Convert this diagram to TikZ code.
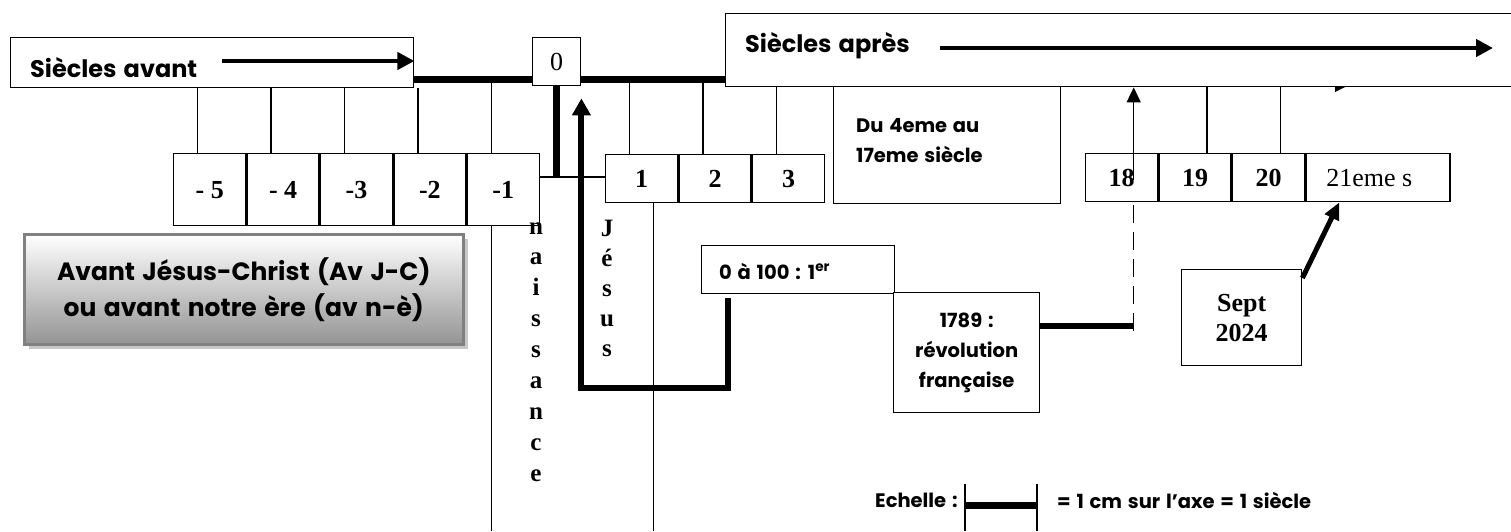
\documentclass[tikz,border=0pt]{standalone}
\usepackage{fontspec}
\newfontfamily\tnr{Liberation Serif}
\newfontfamily\comic{Poppins}[WordSpace=1.4]
\usetikzlibrary{arrows.meta,shadows,calc}
\begin{document}
\begin{tikzpicture}[x=1pt,y=-1pt,
  box/.style={draw, line width=1.4pt, inner sep=0pt, fill=white},
  numfont/.style={font=\tnr\bfseries\fontsize{26}{28}\selectfont},
  numcell/.style={box, numfont, minimum width=72pt},
  bigfont/.style={font=\comic\bfseries\fontsize{24}{36}\selectfont},
  ajcfont/.style={font=\comic\bfseries\fontsize{25}{36}\selectfont},
  smfont/.style={font=\comic\bfseries\fontsize{19.5}{30}\selectfont},
  bigtxt/.style={inner sep=0pt, bigfont},
  smtxt/.style={inner sep=0pt, smfont},
  vtxt/.style={inner sep=0pt, anchor=base, font=\tnr\bfseries\fontsize{25}{28}\selectfont},
  thinl/.style={line width=1.4pt},
  axisl/.style={line width=7pt},
  heavy/.style={line width=5.5pt},
  heavyarr/.style={line width=4.5pt, -{Triangle[width=17pt,length=17pt]}},
]
\useasboundingbox (0,0) rectangle (1511,531);
\coordinate (ax) at (0,79);
\coordinate (bot) at (0,531);
\coordinate (hl) at (0,177);
\coordinate (jb) at (0,388);
\coordinate (dk) at (0,326);
\coordinate (dk2) at (0,331);

% ---- top boxes
\node[box, minimum width=403pt, minimum height=50pt, anchor=north west] (sa) at (10,37) {};
\node[bigtxt, anchor=west] (satxt) at (30,68) {Siècles avant};
\coordinate (saA) at (222,61);
\draw[heavyarr] (saA) -- (saA -| sa.east);

\node[box, minimum width=48pt, minimum height=48pt, anchor=north west, font=\tnr\fontsize{26}{28}\selectfont] (zero) at (532,37) {0};

\node[box, minimum width=830pt, minimum height=73pt, anchor=north west] (ap) at (725,13) {};
\node[bigtxt, anchor=west] (aptxt) at (745,46) {Siècles après};
\coordinate (apA) at (940,48);
\coordinate (apB) at (1493,48);
\draw[heavyarr] (apA) -- (apB);

\draw[axisl] (sa.east |- ax) -- (zero.west |- ax);
\draw[axisl] (zero.east |- ax) -- (ap.west |- ax);

% ---- left cells
\node[numcell, minimum height=72pt, anchor=north west] (m5) at (173,153) {- 5};
\node[numcell, minimum height=72pt, anchor=north west] (m4) at (m5.north east) {- 4};
\node[numcell, minimum height=72pt, anchor=north west] (m3) at (m4.north east) {-3};
\node[numcell, minimum height=72pt, anchor=north west] (m2) at (m3.north east) {-2};
\node[numcell, minimum height=72pt, anchor=north west] (m1) at (m2.north east) {-1};
\foreach \c in {m5,m4,m3,m2}
  \draw[thinl] ([xshift=-12pt]\c.north) -- ([xshift=-12pt]\c.north |- sa.south);
\draw[thinl] ([xshift=-12pt]m1.north) -- ([xshift=-12pt]m1.north |- ax);
\draw[thinl] ([xshift=-12pt]m1.south) -- ([xshift=-12pt]m1.south |- bot);

% ---- cells 1 2 3
\node[numcell, minimum height=48pt, anchor=north west] (p1) at (605,154) {1};
\node[numcell, minimum height=48pt, anchor=north west] (p2) at (p1.north east) {2};
\node[numcell, minimum height=48pt, anchor=north west] (p3) at (p2.north east) {3};
\draw[thinl] ([xshift=-12pt]p1.north) -- ([xshift=-12pt]p1.north |- ax);
\draw[thinl] ([xshift=-12pt]p2.north) -- ([xshift=-12pt]p2.north |- ax);
\draw[thinl] ([xshift=-12pt]p3.north) -- ([xshift=-12pt]p3.north |- ap.south);
\draw[thinl] ([xshift=12pt]p1.south) -- ([xshift=12pt]p1.south |- bot);

% ---- zero connectors
\draw[axisl] (zero.south) -- (zero.south |- hl);
\draw[thinl] (m1.east |- hl) -- (p1.west |- hl);

% ---- du 4eme
\node[box, minimum width=227pt, minimum height=117pt, anchor=north west] (du) at (833,86) {};
\node[smtxt, anchor=north west, align=left] (dutxt) at (856,118) {Du 4eme au\\17eme siècle};

% ---- right cells
\node[numcell, minimum height=48pt, anchor=north west] (c18) at (1085,153) {18};
\node[numcell, minimum height=48pt, anchor=north west] (c19) at (c18.north east) {19};
\node[numcell, minimum height=48pt, anchor=north west] (c20) at (c19.north east) {20};
\node[box, minimum width=144pt, minimum height=48pt, anchor=north west] (c21) at (c20.north east) {};
\node[inner sep=0pt, anchor=west, font=\tnr\fontsize{26}{28}\selectfont] (c21txt) at ([xshift=21pt]c21.west) {21eme s};
\draw[thinl] ([xshift=12pt]c19.north) -- ([xshift=12pt]c19.north |- ap.south);
\draw[thinl] ([xshift=12pt]c20.north) -- ([xshift=12pt]c20.north |- ap.south);
\fill (1335,86) -- (1347,86) -- (1335,92) -- cycle;

% ---- event boxes
\node[box, minimum width=193pt, minimum height=48pt, anchor=north west] (h1) at (701,245) {};
\node[smtxt, anchor=west] (h1txt) at (719,271) {0 à 100 : 1\textsuperscript{er}};
\node[box, smfont, align=center, minimum width=146pt, minimum height=120pt, anchor=north west] (rev) at (893,292) {1789 :\\révolution\\française};
\node[box, align=center, minimum width=120pt, minimum height=96pt, anchor=north west, font=\tnr\bfseries\fontsize{26}{30}\selectfont] (sept) at (1181,269) {Sept\\2024};

% ---- connectors
\draw[heavy] (rev.east |- dk) -- ([xshift=12pt]c18.south |- dk);
\draw[thinl, dash pattern=on 18pt off 9pt] ([xshift=12pt]c18.south |- dk2) -- ([xshift=12pt]c18.south);
\draw[thinl, -{Triangle[width=14pt,length=15pt]}] ([xshift=12pt,yshift=-27pt]c18.north) -- ([xshift=12pt]c18.north |- ap.south);
\draw[line width=5pt, -{Triangle[width=15pt,length=17pt]}] ([yshift=-9pt]sept.north east) -- ([xshift=34pt]c21.south west);
\draw[line width=6pt, line join=miter, -{Triangle[width=18pt,length=17pt]}] ([xshift=27pt,yshift=-4pt]h1.south west) |- (zero.south east |- jb) -- ([yshift=-12pt]zero.south east);

% ---- vertical words
\foreach \ch [count=\k] in {n,a,i,s,s,a,n,c,e}
  \node[vtxt] (nai\k) at (536,{234+30.9*(\k-1)}) {\ch};
\foreach \ch [count=\k] in {J,é,s,u,s}
  \node[vtxt] (jes\k) at (607,{236+30*(\k-1)}) {\ch};

% ---- avant JC box
\node[draw=black!50, line width=2.5pt, top color=white, middle color=black!10, bottom color=black!42,
  general shadow={fill=black!22, shadow xshift=5pt, shadow yshift=-5pt},
  minimum width=439pt, minimum height=110pt, anchor=north west, align=center, inner sep=0pt, ajcfont] (ajc) at (23,233)
  {Avant Jésus-Christ (Av J-C)\\ou avant notre ère (av n-è)};

% ---- legend
\node[smtxt, anchor=west] (ech) at (875,500) {Echelle :};
\coordinate (lgA) at (965,484);
\coordinate (lgB) at (1037,484);
\draw[thinl] (lgA) -- (lgA |- bot);
\draw[thinl] (lgB) -- (lgB |- bot);
\draw[axisl] (lgA |- 0,505) -- (lgB |- 0,505);
\node[smtxt, anchor=west] (legtxt) at (1057,500) {= 1 cm sur l’axe = 1 siècle};
\end{tikzpicture}
\end{document}
